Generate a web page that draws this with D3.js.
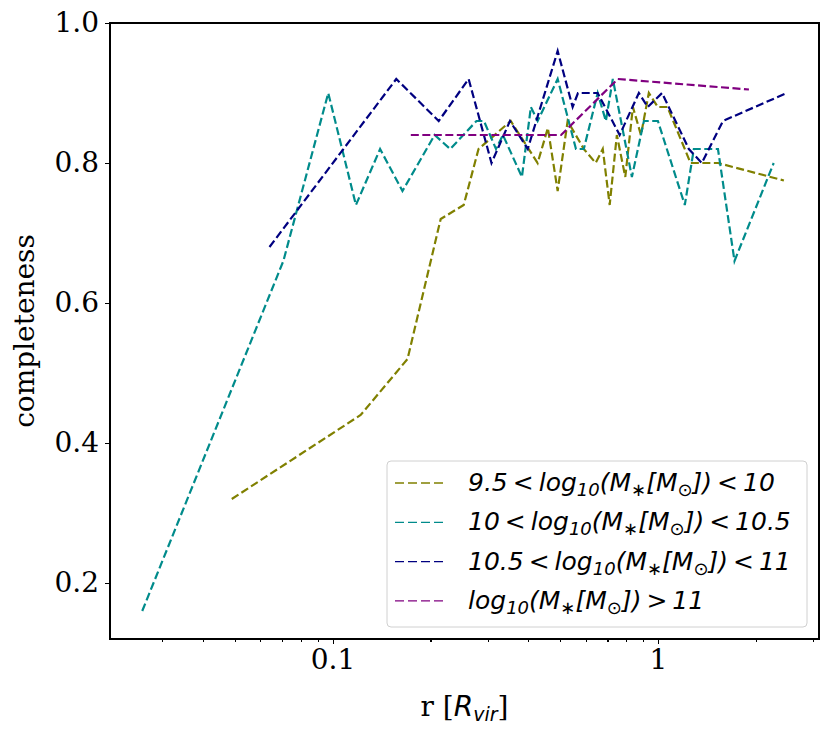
<!DOCTYPE html>
<html lang="en">
<head>
<meta charset="utf-8">
<title>Completeness vs radius</title>
<style>
body { margin: 0; background: #fff; }
.axis text { font: 28px "DejaVu Serif", serif; fill: #000; }
.axis path, .axis line { stroke: #000; stroke-width: 1.1; shape-rendering: crispEdges; }
.label { font: 28px "DejaVu Serif", serif; fill: #000; }
.legend text { font: italic 25px "DejaVu Sans", sans-serif; fill: #000; }
</style>
<script src="https://d3js.org/d3.v7.min.js"></script>
</head>
<body>
<div id="chart"></div>
<script>
/* values: radius in R_vir, completeness fraction */
var rOlive    = [0.049, 0.122, 0.170, 0.215, 0.253, 0.281, 0.353, 0.427, 0.459, 0.492, 0.528, 0.592, 0.644, 0.677, 0.711, 0.748, 0.794, 0.838, 0.887, 0.938, 1.0, 1.07, 1.26, 1.53, 2.44];
var compOlive = [0.32, 0.44, 0.52, 0.72, 0.74, 0.82, 0.86, 0.80, 0.85, 0.76, 0.86, 0.82, 0.80, 0.82, 0.74, 0.84, 0.78, 0.88, 0.84, 0.90, 0.88, 0.88, 0.80, 0.80, 0.775];

var rTeal    = [0.026, 0.0706, 0.097, 0.118, 0.140, 0.164, 0.206, 0.230, 0.277, 0.292, 0.318, 0.334, 0.382, 0.407, 0.427, 0.492, 0.560, 0.592, 0.653, 0.692, 0.727, 0.832, 0.906, 1.0, 1.21, 1.29, 1.53, 1.72, 2.27];
var compTeal = [0.16, 0.66, 0.90, 0.74, 0.82, 0.76, 0.84, 0.82, 0.86, 0.86, 0.82, 0.84, 0.78, 0.88, 0.86, 0.92, 0.82, 0.82, 0.90, 0.86, 0.92, 0.78, 0.86, 0.86, 0.74, 0.82, 0.82, 0.66, 0.80];

var rNavy    = [0.064, 0.157, 0.212, 0.262, 0.308, 0.351, 0.398, 0.492, 0.547, 0.568, 0.653, 0.763, 0.874, 0.931, 1.03, 1.245, 1.365, 1.585, 2.49];
var compNavy = [0.68, 0.92, 0.86, 0.92, 0.80, 0.86, 0.82, 0.96, 0.88, 0.90, 0.90, 0.84, 0.90, 0.88, 0.90, 0.82, 0.80, 0.86, 0.90];

var rPurple    = [0.174, 0.30, 0.504, 0.753, 1.905];
var compPurple = [0.84, 0.84, 0.84, 0.92, 0.905];

var seriesColors = ['#808000', '#008b8b', '#000080', '#800080'];
/* legend labels as [text, subscript?] pieces */
var lt = '\u2009<\u2009', gt = '\u2009>\u2009';
var seriesLabels = [
  [['9.5', 0], [lt, 0], ['log', 0], ['10', 1], ['(M', 0], ['\u2217', 1], ['[M', 0], ['\u2299', 1], ['])', 0], [lt + '10', 0]],
  [['10', 0], [lt, 0], ['log', 0], ['10', 1], ['(M', 0], ['\u2217', 1], ['[M', 0], ['\u2299', 1], ['])', 0], [lt + '10.5', 0]],
  [['10.5', 0], [lt, 0], ['log', 0], ['10', 1], ['(M', 0], ['\u2217', 1], ['[M', 0], ['\u2299', 1], ['])', 0], [lt + '11', 0]],
  [['log', 0], ['10', 1], ['(M', 0], ['\u2217', 1], ['[M', 0], ['\u2299', 1], ['])', 0], [gt + '11', 0]]
];

var xTicks = [0.1, 1];
var xTickLabels = ['0.1', '1'];
var yTicks = [0.2, 0.4, 0.6, 0.8, 1.0];

var series = [
  { r: rOlive, c: compOlive },
  { r: rTeal, c: compTeal },
  { r: rNavy, c: compNavy },
  { r: rPurple, c: compPurple }
];

var margin = { top: 23, right: 11, bottom: 94, left: 110 };
var width = 830 - margin.left - margin.right,
    height = 733 - margin.top - margin.bottom;

/* matplotlib-like 5% margins around the data */
var allR = [].concat(rOlive, rTeal, rNavy, rPurple);
var allC = [].concat(compOlive, compTeal, compNavy, compPurple);
var lr = d3.extent(allR).map(Math.log10), pr = (lr[1] - lr[0]) * 0.05;
var ec = d3.extent(allC), pc = (ec[1] - ec[0]) * 0.05;

var xScale = d3.scaleLog()
  .domain([Math.pow(10, lr[0] - pr), Math.pow(10, lr[1] + pr)])
  .range([0, width]);
var yScale = d3.scaleLinear()
  .domain([ec[0] - pc, ec[1] + pc])
  .range([height, 0]);

var svg = d3.select('#chart').append('svg')
  .attr('width', 830)
  .attr('height', 733);
var graph = svg.append('g')
  .attr('transform', 'translate(' + margin.left + ',' + margin.top + ')');

var line = d3.line()
  .x(function(d) { return xScale(d[0]); })
  .y(function(d) { return yScale(d[1]); });

series.forEach(function(s, i) {
  graph.append('path')
    .datum(d3.zip(s.r, s.c))
    .attr('d', line)
    .attr('fill', 'none')
    .attr('stroke', seriesColors[i])
    .attr('stroke-width', 2.2)
    .attr('stroke-dasharray', '8,3.5');
});

/* minor ticks on log axis */
var minor = xScale.ticks().filter(function(v) { return xTicks.indexOf(v) < 0; });
graph.append('g')
  .attr('class', 'axis')
  .attr('transform', 'translate(0,' + height + ')')
  .call(d3.axisBottom(xScale).tickValues(minor).tickSize(3).tickSizeOuter(0).tickFormat(''))
  .select('.domain').remove();

graph.append('g')
  .attr('class', 'axis')
  .attr('transform', 'translate(0,' + height + ')')
  .call(d3.axisBottom(xScale).tickValues(xTicks).tickSize(5).tickSizeOuter(0).tickPadding(5)
    .tickFormat(function(d, i) { return xTickLabels[i]; }));

graph.append('g')
  .attr('class', 'axis')
  .call(d3.axisLeft(yScale).tickValues(yTicks).tickSize(5).tickSizeOuter(0).tickPadding(6)
    .tickFormat(d3.format('.1f')));

graph.append('rect')
  .attr('width', width)
  .attr('height', height)
  .attr('fill', 'none')
  .attr('stroke', '#000')
  .attr('stroke-width', 1.1)
  .attr('shape-rendering', 'crispEdges');

/* axis labels */
var xl = svg.append('text')
  .attr('class', 'label')
  .attr('x', margin.left + width / 2)
  .attr('y', 716)
  .attr('text-anchor', 'middle');
xl.append('tspan').text('r [');
xl.append('tspan').style('font-family', 'DejaVu Sans').style('font-style', 'italic').text('R');
xl.append('tspan').style('font-family', 'DejaVu Sans').style('font-style', 'italic')
  .style('font-size', '19px').attr('dy', 5).text('vir');
xl.append('tspan').attr('dy', -5).text(']');

svg.append('text')
  .attr('class', 'label')
  .attr('transform', 'translate(34,' + (margin.top + height / 2) + ') rotate(-90)')
  .attr('text-anchor', 'middle')
  .text('completeness');

/* legend */
var legend = svg.append('g').attr('class', 'legend')
  .attr('transform', 'translate(387,461)');
legend.append('rect')
  .attr('width', 420)
  .attr('height', 166)
  .attr('rx', 4)
  .attr('fill', '#fff')
  .attr('fill-opacity', 0.8)
  .attr('stroke', '#d0d0d0');

seriesLabels.forEach(function(pieces, i) {
  var yy = 22 + i * 39.3;
  legend.append('line')
    .attr('x1', 8).attr('x2', 60)
    .attr('y1', yy).attr('y2', yy)
    .attr('stroke', seriesColors[i])
    .attr('stroke-width', 1.3)
    .attr('stroke-dasharray', '9,4');
  var t = legend.append('text').attr('x', 81).attr('y', yy + 8);
  var shifted = false;
  pieces.forEach(function(p) {
    var ts = t.append('tspan').text(p[0]);
    if (p[1]) {
      ts.style('font-size', '18px');
      if (!shifted) { ts.attr('dy', 5); shifted = true; }
    } else if (shifted) {
      ts.attr('dy', -5); shifted = false;
    }
  });
});
</script>
</body>
</html>
